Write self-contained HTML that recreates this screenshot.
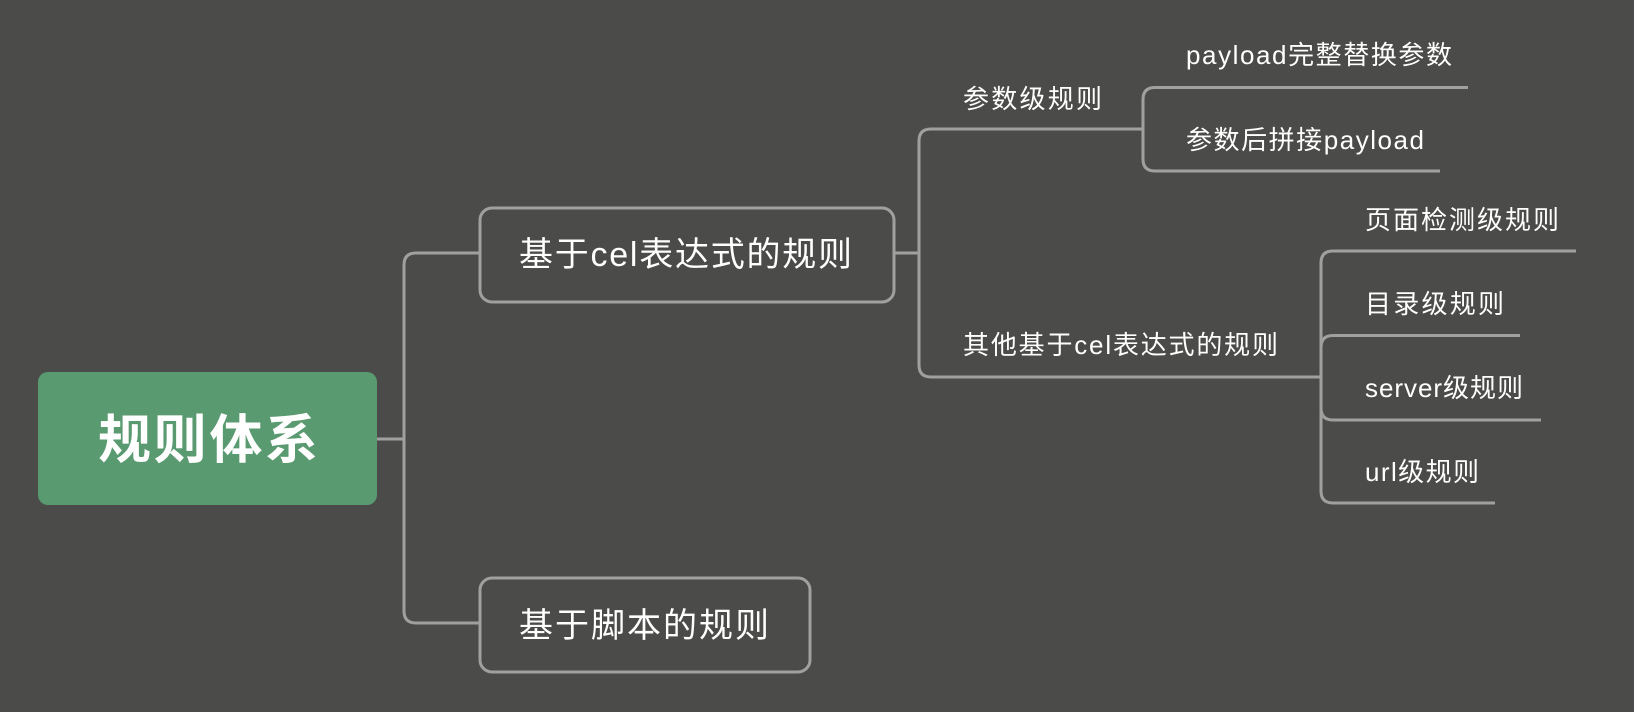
<!DOCTYPE html>
<html><head><meta charset="utf-8"><style>
html,body{margin:0;padding:0;background:#4b4c49;}
svg{display:block}
text{font-family:"Liberation Sans","Noto Sans CJK SC",sans-serif;fill:#fff;}
</style></head><body>
<svg width="1634" height="712" viewBox="0 0 1634 712" xmlns="http://www.w3.org/2000/svg">
<rect width="1634" height="712" fill="#4b4c49"/>
<g fill="none" stroke="#a0a09e" stroke-width="3">
<path d="M377 439 H404"/>
<path d="M479 253 H416 Q404 253 404 265 V611 Q404 623 416 623 H479"/>
<path d="M894 253 H919"/>
<path d="M1143 129 H931 Q919 129 919 141 V365 Q919 377 931 377 H1321"/>
<path d="M1468 87.5 H1155 Q1143 87.5 1143 99.5 V159 Q1143 171 1155 171 H1440"/>
<path d="M1576 251 H1333 Q1321 251 1321 263 V491 Q1321 503 1333 503 H1495"/>
<path d="M1520 335.5 H1333 Q1321 335.5 1321 347.5 V408 Q1321 420 1333 420 H1541"/>
<rect x="480" y="208" width="414" height="94" rx="12"/>
<rect x="480" y="578" width="330" height="94" rx="12"/>
</g>
<rect x="38" y="372" width="339" height="133" rx="10" fill="#5a9a71"/>
<text x="98" y="458" font-size="53" font-weight="bold" textLength="220" lengthAdjust="spacing">规则体系</text>
<text x="519" y="266" font-size="34" textLength="333" lengthAdjust="spacing">基于cel表达式的规则</text>
<text x="519" y="637" font-size="34" textLength="250" lengthAdjust="spacing">基于脚本的规则</text>
<g font-size="26">
<text x="963" y="108" textLength="139" lengthAdjust="spacing">参数级规则</text>
<text x="963" y="354" textLength="315" lengthAdjust="spacing">其他基于cel表达式的规则</text>
<text x="1186" y="64" textLength="266" lengthAdjust="spacing">payload完整替换参数</text>
<text x="1186" y="149" textLength="238" lengthAdjust="spacing">参数后拼接payload</text>
<text x="1365" y="229" textLength="194" lengthAdjust="spacing">页面检测级规则</text>
<text x="1365" y="313" textLength="139" lengthAdjust="spacing">目录级规则</text>
<text x="1365" y="397" textLength="158" lengthAdjust="spacing">server级规则</text>
<text x="1365" y="481" textLength="114" lengthAdjust="spacing">url级规则</text>
</g>
</svg>
</body></html>
